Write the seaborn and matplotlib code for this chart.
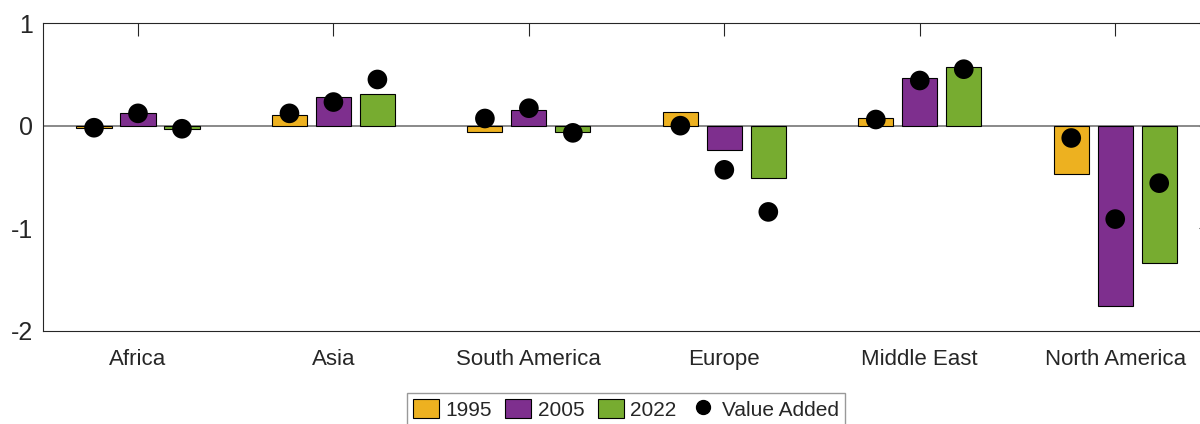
import matplotlib
matplotlib.use("Agg")
import matplotlib.pyplot as plt
from matplotlib.lines import Line2D
from matplotlib.patches import Patch
import pandas as pd
import seaborn as sns

regions = ["Africa", "Asia", "South America", "Europe", "Middle East", "North America"]
years = ["1995", "2005", "2022"]
share_1995 = [-0.02, 0.10, -0.06, 0.13, 0.07, -0.47]
share_2005 = [0.12, 0.28, 0.15, -0.24, 0.46, -1.76]
share_2022 = [-0.03, 0.31, -0.06, -0.51, 0.57, -1.34]
value_added_1995 = [-0.02, 0.12, 0.07, 0.00, 0.06, -0.12]
value_added_2005 = [0.12, 0.23, 0.17, -0.43, 0.44, -0.91]
value_added_2022 = [-0.03, 0.45, -0.07, -0.84, 0.55, -0.56]
year_colors = ["#EDB120", "#7E2F8E", "#77AC30"]
y_ticks = [-2, -1, 0, 1]

sns.set_theme(style="white")
plt.rcParams["font.family"] = ["Liberation Sans", "DejaVu Sans"]
plt.rcParams["axes.unicode_minus"] = False
TEXT = "#262626"

shares = [share_1995, share_2005, share_2022]
added = [value_added_1995, value_added_2005, value_added_2022]
df = pd.DataFrame({
    "region": regions * len(years),
    "year": [y for y in years for _ in regions],
    "share": [v for s in shares for v in s],
})

fig = plt.figure(figsize=(12, 4.24), dpi=100)
ax = fig.add_axes([43 / 1200, 93 / 424, 1168 / 1200, 308 / 424])

ax.axhline(0, color="#808080", linewidth=1.3, zorder=1)
sns.barplot(
    data=df, x="region", y="share", hue="year", order=regions, hue_order=years,
    palette=year_colors, saturation=1, width=0.675, gap=0.2,
    edgecolor="black", linewidth=0.8, errorbar=None, legend=False, ax=ax, zorder=2,
)

# dots sit on the centre of each bar
for container, vals in zip(ax.containers, added):
    xs = [b.get_x() + b.get_width() / 2 for b in container]
    sns.scatterplot(x=xs, y=vals, color="black", s=200, edgecolor="none",
                    ax=ax, zorder=3, legend=False)

ax.set_xlim(-0.486, 5.49)
ax.set_ylim(-2, 1)
ax.set_yticks(y_ticks)
ax.set_xlabel("")
ax.set_ylabel("")
ax.tick_params(axis="x", direction="in", length=9, width=0.8, color=TEXT,
               labelsize=16, labelcolor=TEXT, pad=13, top=True)
ax.tick_params(axis="y", direction="in", length=9, width=0.8, color=TEXT,
               labelsize=18, labelcolor=TEXT, pad=7, right=True)
for sp in ax.spines.values():
    sp.set_visible(True)
    sp.set_color(TEXT)
    sp.set_linewidth(0.8)

handles = [Patch(facecolor=c, edgecolor="black", linewidth=0.8) for c in year_colors]
handles.append(Line2D([], [], linestyle="none", marker="o", markersize=10,
                      markerfacecolor="black", markeredgecolor="black"))
leg = fig.legend(
    handles, years + ["Value Added"], loc="upper center",
    bbox_to_anchor=(626 / 1200, 31 / 424), ncol=4, fontsize=15,
    frameon=True, fancybox=False, edgecolor="#808080", handlelength=1.25,
    handleheight=1.0, handletextpad=0.3, columnspacing=0.65, borderpad=0.3,
    borderaxespad=0,
)
leg.get_frame().set_linewidth(1.0)
for t in leg.get_texts():
    t.set_color(TEXT)

fig.savefig("out.png", dpi=100)
